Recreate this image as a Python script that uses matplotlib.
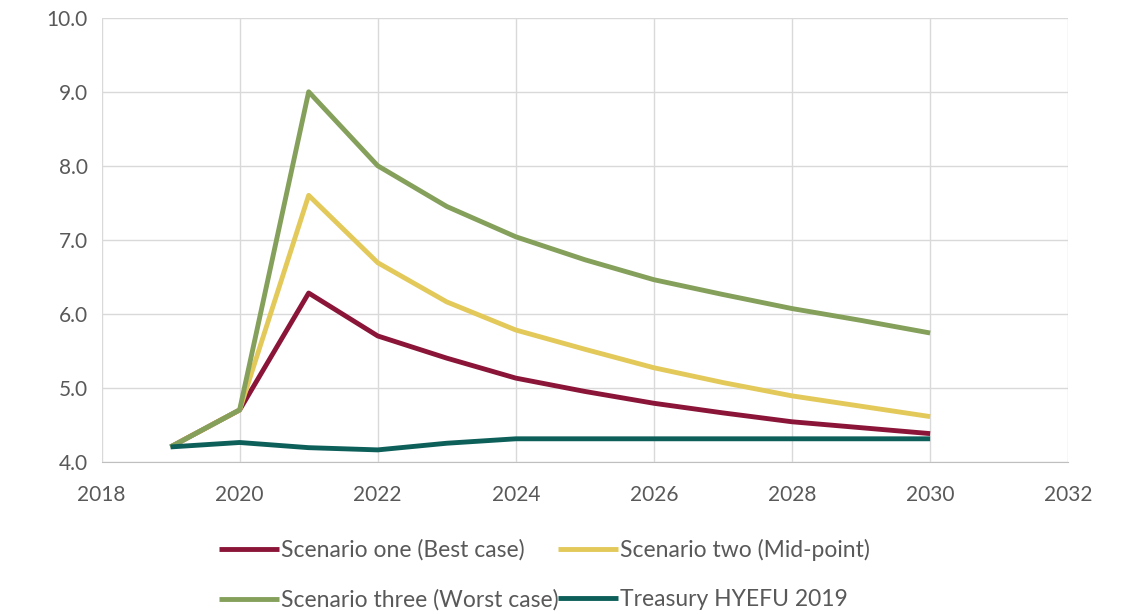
import matplotlib
matplotlib.use("Agg")
import matplotlib.pyplot as plt

years = [2019, 2020, 2021, 2022, 2023, 2024, 2025, 2026, 2027, 2028, 2029, 2030]
best = [4.2, 4.7, 6.28, 5.70, 5.40, 5.13, 4.95, 4.79, 4.66, 4.54, 4.46, 4.38]
mid = [4.2, 4.7, 7.6, 6.69, 6.16, 5.78, 5.52, 5.27, 5.07, 4.89, 4.75, 4.61]
worst = [4.2, 4.7, 9.0, 8.0, 7.45, 7.04, 6.73, 6.46, 6.26, 6.07, 5.91, 5.74]
treasury = [4.2, 4.26, 4.19, 4.16, 4.25, 4.31, 4.31, 4.31, 4.31, 4.31, 4.31, 4.31]

labels = ["Scenario one (Best case)", "Scenario two (Mid-point)",
          "Scenario three (Worst case)", "Treasury HYEFU 2019"]
colors = ["#8A1538", "#E3C95A", "#84A05A", "#0D5F5A"]

plt.rcParams['font.family'] = ['Lato', 'DejaVu Sans']

fig = plt.figure(figsize=(11.28, 6.14), dpi=100)
ax = fig.add_axes([0.09, 0.248, 0.857, 0.723])

series = [best, mid, worst, treasury]
lines = []
for s, c, l in zip(series, colors, labels):
    ln, = ax.plot(years, s, color=c, lw=3.5, label=l, solid_capstyle='butt')
    lines.append(ln)

ax.set_xlim(2018, 2032)
ax.set_ylim(4.0, 10.0)
ax.set_xticks(range(2018, 2033, 2))
ax.set_yticks([4, 5, 6, 7, 8, 9, 10])
ax.set_yticklabels([f"{v:.1f}" for v in [4, 5, 6, 7, 8, 9, 10]])
ax.grid(True, color="#D9D9D9", lw=1)
ax.set_axisbelow(True)
for sp in ["top", "right", "left"]:
    ax.spines[sp].set_visible(False)
ax.spines["bottom"].set_color("#BFBFBF")
ax.tick_params(length=0, labelsize=15, colors="#595959")
ax.tick_params(axis="x", pad=17)
ax.tick_params(axis="y", pad=10)

# legend filled row-wise as in the reference
order = [0, 2, 1, 3]
leg = fig.legend(handles=[lines[i] for i in order],
                 labels=[labels[i] for i in order], loc="upper left",
                 bbox_to_anchor=(0.186, 0.138), ncol=2, frameon=False,
                 fontsize=16.5, handlelength=2.6, handletextpad=0.1,
                 columnspacing=0.0, labelspacing=1.25, labelcolor="#595959",
                 borderaxespad=0)

fig.savefig("out.png", dpi=100)
